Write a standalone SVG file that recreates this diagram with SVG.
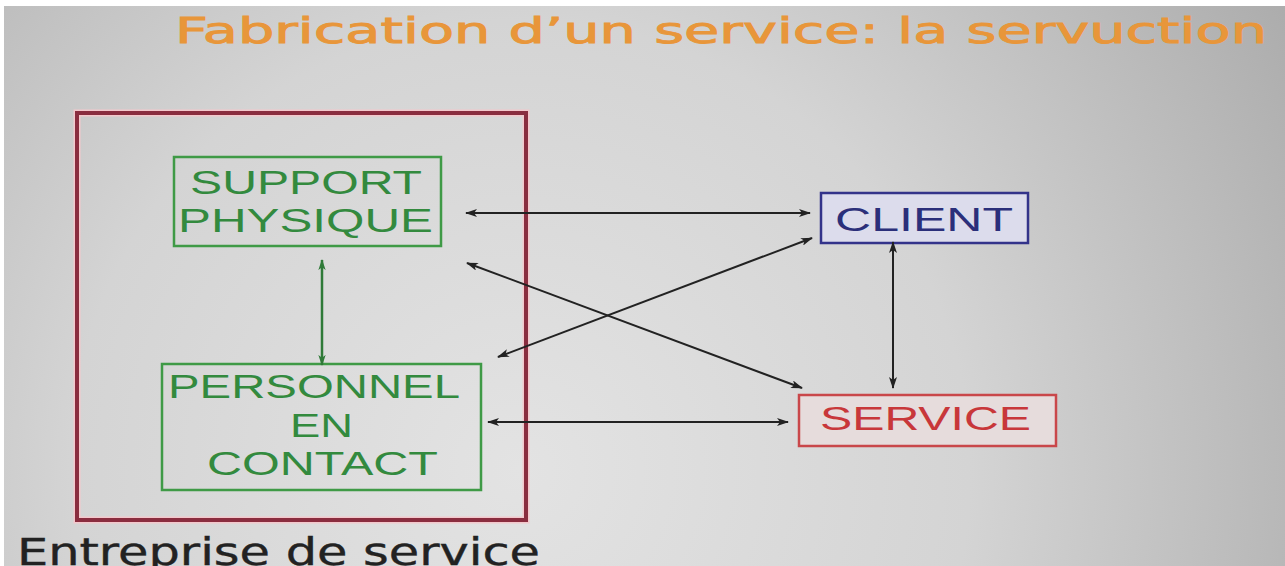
<svg xmlns="http://www.w3.org/2000/svg" width="1285" height="566" viewBox="0 0 1285 566">
<defs>
<radialGradient id="bg" cx="520" cy="470" r="900" gradientUnits="userSpaceOnUse">
<stop offset="0" stop-color="#e3e3e3"/>
<stop offset="0.5" stop-color="#d4d4d4"/>
<stop offset="1" stop-color="#acacac"/>
</radialGradient>
<marker id="ah" viewBox="0 0 12 8" refX="11" refY="4" markerWidth="12" markerHeight="8" markerUnits="userSpaceOnUse" orient="auto-start-reverse">
<path d="M0,0 L12,4 L0,8 L3,4 Z" fill="#222"/>
</marker>
<marker id="ahg" viewBox="0 0 12 8" refX="11" refY="4" markerWidth="11" markerHeight="8" markerUnits="userSpaceOnUse" orient="auto-start-reverse">
<path d="M0,0 L12,4 L0,8 L3,4 Z" fill="#2f7a38"/>
</marker>
</defs>
<style>
.lbl{font-family:"Liberation Sans",Arial,sans-serif;font-size:33px}
.g{fill:#338a3e}
.conn{stroke:#222;stroke-width:2;fill:none;marker-start:url(#ah);marker-end:url(#ah)}
</style>
<rect x="0" y="0" width="1285" height="566" fill="#ffffff"/>
<rect x="4" y="6" width="1281" height="560" fill="url(#bg)"/>
<text x="175" y="43" font-family="DejaVu Sans,Verdana,sans-serif" font-size="35" fill="#e8963a" stroke="#e8963a" stroke-width="0.9" textLength="1092" lengthAdjust="spacingAndGlyphs">Fabrication d’un service: la servuction</text>
<g id="entreprise">
<rect x="77" y="113" width="449" height="407" fill="none" stroke="#f3c8cc" stroke-width="7"/>
<rect x="77" y="113" width="449" height="407" fill="none" stroke="#8a2d3f" stroke-width="4"/>
<text x="17" y="565" font-family="DejaVu Sans,Verdana,sans-serif" font-size="37" fill="#222" stroke="#222" stroke-width="0.4" textLength="523" lengthAdjust="spacingAndGlyphs">Entreprise de service</text>
</g>
<g id="support">
<rect x="174" y="157" width="267" height="89" fill="none" stroke="#3f9a46" stroke-width="2.5"/>
<text class="lbl g" x="190" y="194" textLength="232" lengthAdjust="spacingAndGlyphs">SUPPORT</text>
<text class="lbl g" x="178" y="232" textLength="255" lengthAdjust="spacingAndGlyphs">PHYSIQUE</text>
</g>
<g id="personnel">
<rect x="162" y="364" width="319" height="126" fill="none" stroke="#3f9a46" stroke-width="2.5"/>
<text class="lbl g" x="168" y="398" textLength="292" lengthAdjust="spacingAndGlyphs">PERSONNEL</text>
<text class="lbl g" x="290" y="437" textLength="63" lengthAdjust="spacingAndGlyphs">EN</text>
<text class="lbl g" x="207" y="475" textLength="231" lengthAdjust="spacingAndGlyphs">CONTACT</text>
</g>
<g id="client">
<rect x="821" y="193" width="207" height="50" fill="#dcdcec" stroke="#33338a" stroke-width="2.5"/>
<text class="lbl" x="835" y="231" fill="#2b2f7a" textLength="178" lengthAdjust="spacingAndGlyphs">CLIENT</text>
</g>
<g id="service">
<rect x="799" y="395" width="257" height="51" fill="#e6dcdc" stroke="#c9474a" stroke-width="2.5"/>
<text class="lbl" x="820" y="430" fill="#c8373a" textLength="211" lengthAdjust="spacingAndGlyphs">SERVICE</text>
</g>
<g id="connectors">
<line x1="322" y1="260" x2="322" y2="365" stroke="#2f7a38" stroke-width="2.5" marker-start="url(#ahg)" marker-end="url(#ahg)"/>
<line class="conn" x1="466" y1="213" x2="810" y2="213"/>
<line class="conn" x1="467" y1="263" x2="802" y2="388"/>
<line class="conn" x1="498" y1="357" x2="812" y2="238"/>
<line class="conn" x1="488" y1="422" x2="788" y2="422"/>
<line class="conn" x1="893" y1="242" x2="893" y2="388"/>
</g>
</svg>
